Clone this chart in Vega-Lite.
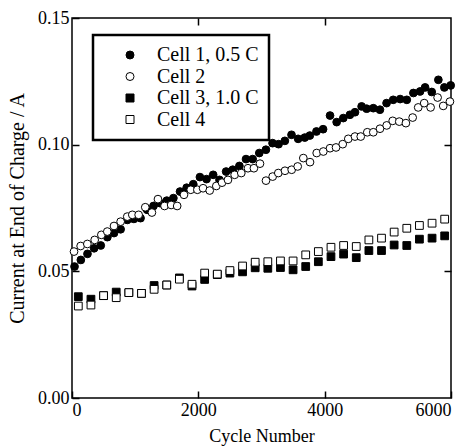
{
  "$schema": "https://vega.github.io/schema/vega-lite/v6.json",
  "width": 379,
  "height": 380,
  "autosize": {"type": "none"},
  "padding": {"left": 72, "top": 18, "right": 20, "bottom": 49},
  "background": "white",
  "config": {
    "font": "Liberation Serif",
    "view": {"stroke": "black", "strokeWidth": 1.5},
    "axis": {
      "grid": false, "domain": false, "tickColor": "black", "tickSize": -7, "tickWidth": 1.5,
      "labelFont": "Liberation Serif", "labelFontSize": 18, "labelColor": "black",
      "titleFont": "Liberation Serif", "titleFontSize": 18, "titleFontWeight": "normal", "titleColor": "black"
    },
    "legend": {
      "orient": "none", "legendX": 21, "legendY": 17,
      "strokeColor": "black", "strokeWidth": 2.5, "fillColor": "white", "padding": 10,
      "labelFont": "Liberation Serif", "labelFontSize": 20, "labelColor": "black",
      "symbolSize": 64, "symbolStrokeColor": "black", "symbolStrokeWidth": 1,
      "symbolOffset": 17, "labelOffset": 17, "rowPadding": 1.5
    }
  },
  "data": {"values": [
    {"series":"Cell 1, 0.5 C","cycle":40,"current":0.0519},
    {"series":"Cell 1, 0.5 C","cycle":140,"current":0.0545},
    {"series":"Cell 1, 0.5 C","cycle":245,"current":0.0569},
    {"series":"Cell 1, 0.5 C","cycle":350,"current":0.0591},
    {"series":"Cell 1, 0.5 C","cycle":455,"current":0.0602},
    {"series":"Cell 1, 0.5 C","cycle":560,"current":0.0635},
    {"series":"Cell 1, 0.5 C","cycle":665,"current":0.0651},
    {"series":"Cell 1, 0.5 C","cycle":770,"current":0.0666},
    {"series":"Cell 1, 0.5 C","cycle":875,"current":0.0703},
    {"series":"Cell 1, 0.5 C","cycle":980,"current":0.0707},
    {"series":"Cell 1, 0.5 C","cycle":1085,"current":0.0710},
    {"series":"Cell 1, 0.5 C","cycle":1190,"current":0.0743},
    {"series":"Cell 1, 0.5 C","cycle":1290,"current":0.0758},
    {"series":"Cell 1, 0.5 C","cycle":1395,"current":0.0769},
    {"series":"Cell 1, 0.5 C","cycle":1500,"current":0.0779},
    {"series":"Cell 1, 0.5 C","cycle":1605,"current":0.0789},
    {"series":"Cell 1, 0.5 C","cycle":1710,"current":0.0815},
    {"series":"Cell 1, 0.5 C","cycle":1815,"current":0.0830},
    {"series":"Cell 1, 0.5 C","cycle":1920,"current":0.0844},
    {"series":"Cell 1, 0.5 C","cycle":2025,"current":0.0872},
    {"series":"Cell 1, 0.5 C","cycle":2130,"current":0.0864},
    {"series":"Cell 1, 0.5 C","cycle":2235,"current":0.0881},
    {"series":"Cell 1, 0.5 C","cycle":2335,"current":0.0861},
    {"series":"Cell 1, 0.5 C","cycle":2440,"current":0.0894},
    {"series":"Cell 1, 0.5 C","cycle":2545,"current":0.0901},
    {"series":"Cell 1, 0.5 C","cycle":2650,"current":0.0916},
    {"series":"Cell 1, 0.5 C","cycle":2755,"current":0.0943},
    {"series":"Cell 1, 0.5 C","cycle":2860,"current":0.0943},
    {"series":"Cell 1, 0.5 C","cycle":2965,"current":0.0967},
    {"series":"Cell 1, 0.5 C","cycle":3070,"current":0.0980},
    {"series":"Cell 1, 0.5 C","cycle":3175,"current":0.1006},
    {"series":"Cell 1, 0.5 C","cycle":3270,"current":0.1002},
    {"series":"Cell 1, 0.5 C","cycle":3370,"current":0.1015},
    {"series":"Cell 1, 0.5 C","cycle":3475,"current":0.1039},
    {"series":"Cell 1, 0.5 C","cycle":3580,"current":0.1023},
    {"series":"Cell 1, 0.5 C","cycle":3685,"current":0.1028},
    {"series":"Cell 1, 0.5 C","cycle":3765,"current":0.1036},
    {"series":"Cell 1, 0.5 C","cycle":3870,"current":0.1052},
    {"series":"Cell 1, 0.5 C","cycle":3975,"current":0.1061},
    {"series":"Cell 1, 0.5 C","cycle":4085,"current":0.1115},
    {"series":"Cell 1, 0.5 C","cycle":4190,"current":0.1089},
    {"series":"Cell 1, 0.5 C","cycle":4295,"current":0.1105},
    {"series":"Cell 1, 0.5 C","cycle":4400,"current":0.1118},
    {"series":"Cell 1, 0.5 C","cycle":4480,"current":0.1128},
    {"series":"Cell 1, 0.5 C","cycle":4585,"current":0.1151},
    {"series":"Cell 1, 0.5 C","cycle":4665,"current":0.1142},
    {"series":"Cell 1, 0.5 C","cycle":4770,"current":0.1144},
    {"series":"Cell 1, 0.5 C","cycle":4875,"current":0.1138},
    {"series":"Cell 1, 0.5 C","cycle":4980,"current":0.1164},
    {"series":"Cell 1, 0.5 C","cycle":5085,"current":0.1177},
    {"series":"Cell 1, 0.5 C","cycle":5195,"current":0.1180},
    {"series":"Cell 1, 0.5 C","cycle":5300,"current":0.1177},
    {"series":"Cell 1, 0.5 C","cycle":5405,"current":0.1204},
    {"series":"Cell 1, 0.5 C","cycle":5510,"current":0.1210},
    {"series":"Cell 1, 0.5 C","cycle":5590,"current":0.1226},
    {"series":"Cell 1, 0.5 C","cycle":5695,"current":0.1208},
    {"series":"Cell 1, 0.5 C","cycle":5800,"current":0.1256},
    {"series":"Cell 1, 0.5 C","cycle":5895,"current":0.1226},
    {"series":"Cell 1, 0.5 C","cycle":5995,"current":0.1234},
    {"series":"Cell 2","cycle":32,"current":0.0578},
    {"series":"Cell 2","cycle":137,"current":0.0600},
    {"series":"Cell 2","cycle":243,"current":0.0608},
    {"series":"Cell 2","cycle":359,"current":0.0624},
    {"series":"Cell 2","cycle":465,"current":0.0644},
    {"series":"Cell 2","cycle":559,"current":0.0657},
    {"series":"Cell 2","cycle":665,"current":0.0679},
    {"series":"Cell 2","cycle":770,"current":0.0696},
    {"series":"Cell 2","cycle":875,"current":0.0716},
    {"series":"Cell 2","cycle":955,"current":0.0723},
    {"series":"Cell 2","cycle":1055,"current":0.0723},
    {"series":"Cell 2","cycle":1160,"current":0.0753},
    {"series":"Cell 2","cycle":1265,"current":0.0732},
    {"series":"Cell 2","cycle":1361,"current":0.0785},
    {"series":"Cell 2","cycle":1465,"current":0.0758},
    {"series":"Cell 2","cycle":1570,"current":0.0762},
    {"series":"Cell 2","cycle":1665,"current":0.0758},
    {"series":"Cell 2","cycle":1773,"current":0.0802},
    {"series":"Cell 2","cycle":1880,"current":0.0822},
    {"series":"Cell 2","cycle":1985,"current":0.0822},
    {"series":"Cell 2","cycle":2075,"current":0.0828},
    {"series":"Cell 2","cycle":2180,"current":0.0819},
    {"series":"Cell 2","cycle":2285,"current":0.0837},
    {"series":"Cell 2","cycle":2375,"current":0.0850},
    {"series":"Cell 2","cycle":2469,"current":0.0861},
    {"series":"Cell 2","cycle":2575,"current":0.0881},
    {"series":"Cell 2","cycle":2680,"current":0.0888},
    {"series":"Cell 2","cycle":2786,"current":0.0907},
    {"series":"Cell 2","cycle":2880,"current":0.0907},
    {"series":"Cell 2","cycle":2976,"current":0.0925},
    {"series":"Cell 2","cycle":3071,"current":0.0858},
    {"series":"Cell 2","cycle":3177,"current":0.0874},
    {"series":"Cell 2","cycle":3266,"current":0.0888},
    {"series":"Cell 2","cycle":3372,"current":0.0897},
    {"series":"Cell 2","cycle":3478,"current":0.0901},
    {"series":"Cell 2","cycle":3573,"current":0.0914},
    {"series":"Cell 2","cycle":3662,"current":0.0947},
    {"series":"Cell 2","cycle":3768,"current":0.0931},
    {"series":"Cell 2","cycle":3874,"current":0.0967},
    {"series":"Cell 2","cycle":3979,"current":0.0973},
    {"series":"Cell 2","cycle":4085,"current":0.0986},
    {"series":"Cell 2","cycle":4180,"current":0.0989},
    {"series":"Cell 2","cycle":4286,"current":0.1002},
    {"series":"Cell 2","cycle":4374,"current":0.1023},
    {"series":"Cell 2","cycle":4480,"current":0.1032},
    {"series":"Cell 2","cycle":4571,"current":0.1032},
    {"series":"Cell 2","cycle":4675,"current":0.1049},
    {"series":"Cell 2","cycle":4770,"current":0.1049},
    {"series":"Cell 2","cycle":4876,"current":0.1063},
    {"series":"Cell 2","cycle":4982,"current":0.1076},
    {"series":"Cell 2","cycle":5077,"current":0.1094},
    {"series":"Cell 2","cycle":5181,"current":0.1091},
    {"series":"Cell 2","cycle":5286,"current":0.1085},
    {"series":"Cell 2","cycle":5393,"current":0.1107},
    {"series":"Cell 2","cycle":5481,"current":0.1147},
    {"series":"Cell 2","cycle":5576,"current":0.1164},
    {"series":"Cell 2","cycle":5677,"current":0.1147},
    {"series":"Cell 2","cycle":5788,"current":0.1186},
    {"series":"Cell 2","cycle":5877,"current":0.1153},
    {"series":"Cell 2","cycle":5983,"current":0.1170},
    {"series":"Cell 3, 1.0 C","cycle":100,"current":0.0400},
    {"series":"Cell 3, 1.0 C","cycle":300,"current":0.0390},
    {"series":"Cell 3, 1.0 C","cycle":500,"current":0.0404},
    {"series":"Cell 3, 1.0 C","cycle":700,"current":0.0418},
    {"series":"Cell 3, 1.0 C","cycle":900,"current":0.0416},
    {"series":"Cell 3, 1.0 C","cycle":1100,"current":0.0413},
    {"series":"Cell 3, 1.0 C","cycle":1300,"current":0.0444},
    {"series":"Cell 3, 1.0 C","cycle":1500,"current":0.0446},
    {"series":"Cell 3, 1.0 C","cycle":1700,"current":0.0474},
    {"series":"Cell 3, 1.0 C","cycle":1900,"current":0.0442},
    {"series":"Cell 3, 1.0 C","cycle":2100,"current":0.0468},
    {"series":"Cell 3, 1.0 C","cycle":2300,"current":0.0487},
    {"series":"Cell 3, 1.0 C","cycle":2500,"current":0.0493},
    {"series":"Cell 3, 1.0 C","cycle":2700,"current":0.0498},
    {"series":"Cell 3, 1.0 C","cycle":2900,"current":0.0514},
    {"series":"Cell 3, 1.0 C","cycle":3100,"current":0.0512},
    {"series":"Cell 3, 1.0 C","cycle":3300,"current":0.0515},
    {"series":"Cell 3, 1.0 C","cycle":3500,"current":0.0506},
    {"series":"Cell 3, 1.0 C","cycle":3700,"current":0.0519},
    {"series":"Cell 3, 1.0 C","cycle":3900,"current":0.0538},
    {"series":"Cell 3, 1.0 C","cycle":4100,"current":0.0558},
    {"series":"Cell 3, 1.0 C","cycle":4300,"current":0.0568},
    {"series":"Cell 3, 1.0 C","cycle":4500,"current":0.0554},
    {"series":"Cell 3, 1.0 C","cycle":4700,"current":0.0582},
    {"series":"Cell 3, 1.0 C","cycle":4900,"current":0.0582},
    {"series":"Cell 3, 1.0 C","cycle":5100,"current":0.0604},
    {"series":"Cell 3, 1.0 C","cycle":5300,"current":0.0602},
    {"series":"Cell 3, 1.0 C","cycle":5500,"current":0.0627},
    {"series":"Cell 3, 1.0 C","cycle":5700,"current":0.0631},
    {"series":"Cell 3, 1.0 C","cycle":5900,"current":0.0640},
    {"series":"Cell 4","cycle":100,"current":0.0363},
    {"series":"Cell 4","cycle":300,"current":0.0367},
    {"series":"Cell 4","cycle":500,"current":0.0404},
    {"series":"Cell 4","cycle":700,"current":0.0396},
    {"series":"Cell 4","cycle":900,"current":0.0416},
    {"series":"Cell 4","cycle":1100,"current":0.0413},
    {"series":"Cell 4","cycle":1300,"current":0.0429},
    {"series":"Cell 4","cycle":1500,"current":0.0446},
    {"series":"Cell 4","cycle":1700,"current":0.0469},
    {"series":"Cell 4","cycle":1900,"current":0.0449},
    {"series":"Cell 4","cycle":2100,"current":0.0493},
    {"series":"Cell 4","cycle":2300,"current":0.0489},
    {"series":"Cell 4","cycle":2500,"current":0.0503},
    {"series":"Cell 4","cycle":2700,"current":0.0521},
    {"series":"Cell 4","cycle":2900,"current":0.0536},
    {"series":"Cell 4","cycle":3100,"current":0.0538},
    {"series":"Cell 4","cycle":3300,"current":0.0541},
    {"series":"Cell 4","cycle":3500,"current":0.0541},
    {"series":"Cell 4","cycle":3700,"current":0.0565},
    {"series":"Cell 4","cycle":3900,"current":0.0578},
    {"series":"Cell 4","cycle":4100,"current":0.0595},
    {"series":"Cell 4","cycle":4300,"current":0.0602},
    {"series":"Cell 4","cycle":4500,"current":0.0598},
    {"series":"Cell 4","cycle":4700,"current":0.0624},
    {"series":"Cell 4","cycle":4900,"current":0.0631},
    {"series":"Cell 4","cycle":5100,"current":0.0655},
    {"series":"Cell 4","cycle":5300,"current":0.0670},
    {"series":"Cell 4","cycle":5500,"current":0.0681},
    {"series":"Cell 4","cycle":5700,"current":0.0690},
    {"series":"Cell 4","cycle":5900,"current":0.0706}
  ]},
  "layer": [
    {
      "mark": {"type": "point", "filled": true, "strokeWidth": 1, "size": 60, "opacity": 1},
      "encoding": {
        "x": {"field": "cycle", "type": "quantitative", "scale": {"domain": [0, 6000], "nice": false, "zero": false},
              "axis": {"orient": "bottom", "title": "Cycle Number", "values": [0, 2000, 4000, 6000], "format": "d", "labelPadding": 10, "titlePadding": 8, "labelFont": "Liberation Serif", "titleFont": "Liberation Serif"}},
        "y": {"field": "current", "type": "quantitative", "scale": {"domain": [0, 0.15], "nice": false},
              "axis": {"orient": "left", "title": "Current at End of Charge / A", "titleFontSize": 20, "values": [0, 0.05, 0.1, 0.15], "format": ".2f", "labelPadding": 10, "titlePadding": 10, "labelFont": "Liberation Serif", "titleFont": "Liberation Serif"}},
        "shape": {"field": "series", "type": "nominal", "title": null,
                  "scale": {"domain": ["Cell 1, 0.5 C", "Cell 2", "Cell 3, 1.0 C", "Cell 4"], "range": ["circle", "circle", "square", "square"]},
                  "legend": {"labelFont": "Liberation Serif"}},
        "fill": {"field": "series", "type": "nominal", "title": null,
                 "scale": {"domain": ["Cell 1, 0.5 C", "Cell 2", "Cell 3, 1.0 C", "Cell 4"], "range": ["black", "white", "black", "white"]},
                 "legend": {"labelFont": "Liberation Serif"}},
        "stroke": {"field": "series", "type": "nominal", "title": null,
                 "scale": {"domain": ["Cell 1, 0.5 C", "Cell 2", "Cell 3, 1.0 C", "Cell 4"], "range": ["black", "black", "black", "black"]},
                 "legend": {"labelFont": "Liberation Serif"}}
      }
    },
    {
      "mark": {"type": "point", "opacity": 0},
      "encoding": {
        "x": {"field": "cycle", "type": "quantitative", "scale": {"domain": [0, 6000], "nice": false, "zero": false},
              "axis": {"orient": "top", "title": null, "labels": false, "values": [2000, 4000]}},
        "y": {"field": "current", "type": "quantitative", "scale": {"domain": [0, 0.15], "nice": false},
              "axis": {"orient": "right", "title": null, "labels": false, "values": [0.05, 0.1]}}
      }
    }
  ],
  "resolve": {"axis": {"x": "independent", "y": "independent"}}
}
